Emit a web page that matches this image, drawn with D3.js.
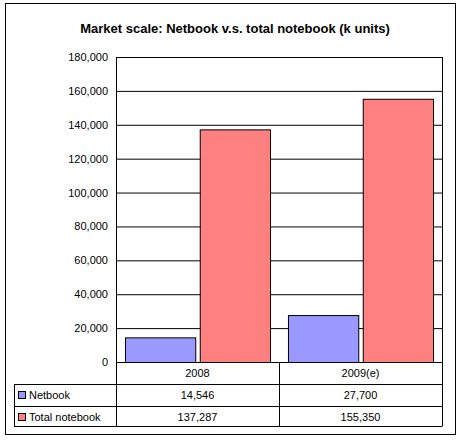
<!DOCTYPE html><html><head><script src="https://cdn.jsdelivr.net/npm/d3@7"></script>
<style>body{margin:0;background:#fff}text{font-family:"Liberation Sans",Arial,sans-serif;font-size:11px}</style></head><body>
<script>
const categories=["2008","2009(e)"];
const seriesNames=["Netbook","Total notebook"];
const netbook=[14546,27700];
const total=[137287,155350];
const colors=["#9999FF","#FF8080"];
const yTicks=[0,20000,40000,60000,80000,100000,120000,140000,160000,180000];
const svg=d3.select("body").append("svg").attr("width",461).attr("height",440);
svg.append("rect").attr("x",5.5).attr("y",3.5).attr("width",450).attr("height",431).attr("fill","#fff").attr("stroke","#000");
svg.append("text").attr("x",235).attr("y",33).attr("text-anchor","middle").style("font-weight","bold").style("font-size","13px").text("Market scale: Netbook v.s. total notebook (k units)");
const L=116,R=442,T=57,B=362;
const x=d3.scaleBand().domain(categories).range([L,R]);
const y=d3.scaleLinear().domain([0,180000]).range([B,T]);
const g=svg.append("g");
yTicks.forEach(t=>{g.append("line").attr("x1",L).attr("x2",R).attr("y1",y(t)+.5).attr("y2",y(t)+.5).attr("stroke","#000");
 g.append("text").attr("x",L-8).attr("y",y(t)+4).attr("text-anchor","end").text(d3.format(",")(t));});
g.append("rect").attr("x",L+.5).attr("y",T+.5).attr("width",R-L).attr("height",B-T).attr("fill","none").attr("stroke","#000");
const sub=d3.scaleBand().domain([0,1]).range([0,x.bandwidth()]).paddingInner(0.06).paddingOuter(0.12);
const data=[netbook,total];
data.forEach((s,si)=>s.forEach((v,ci)=>{
 g.append("rect").attr("x",x(categories[ci])+sub(si)+.5).attr("y",y(v)+.5).attr("width",sub.bandwidth()).attr("height",B-y(v)).attr("fill",colors[si]).attr("stroke","#000");
}));
// table
const rows=[B,384,406,426];
const tl=14;
rows.forEach((ry,i)=>g.append("line").attr("x1",i==0?L:tl).attr("x2",R).attr("y1",ry+.5).attr("y2",ry+.5).attr("stroke","#000"));
g.append("line").attr("x1",tl+.5).attr("x2",tl+.5).attr("y1",384).attr("y2",426.5).attr("stroke","#000");
[L,x(categories[1]),R].forEach(vx=>g.append("line").attr("x1",vx+.5).attr("x2",vx+.5).attr("y1",B).attr("y2",426.5).attr("stroke","#000"));
categories.forEach(c=>g.append("text").attr("x",x(c)+x.bandwidth()/2).attr("y",377).attr("text-anchor","middle").text(c));
data.forEach((s,si)=>{
 const ry=rows[si+1];
 g.append("rect").attr("x",18.5).attr("y",ry+7.5).attr("width",7).attr("height",7).attr("fill",colors[si]).attr("stroke","#000");
 g.append("text").attr("x",29).attr("y",ry+15).text(seriesNames[si]);
 s.forEach((v,ci)=>g.append("text").attr("x",x(categories[ci])+x.bandwidth()/2).attr("y",ry+15).attr("text-anchor","middle").text(d3.format(",")(v)));
});
</script></body></html>
